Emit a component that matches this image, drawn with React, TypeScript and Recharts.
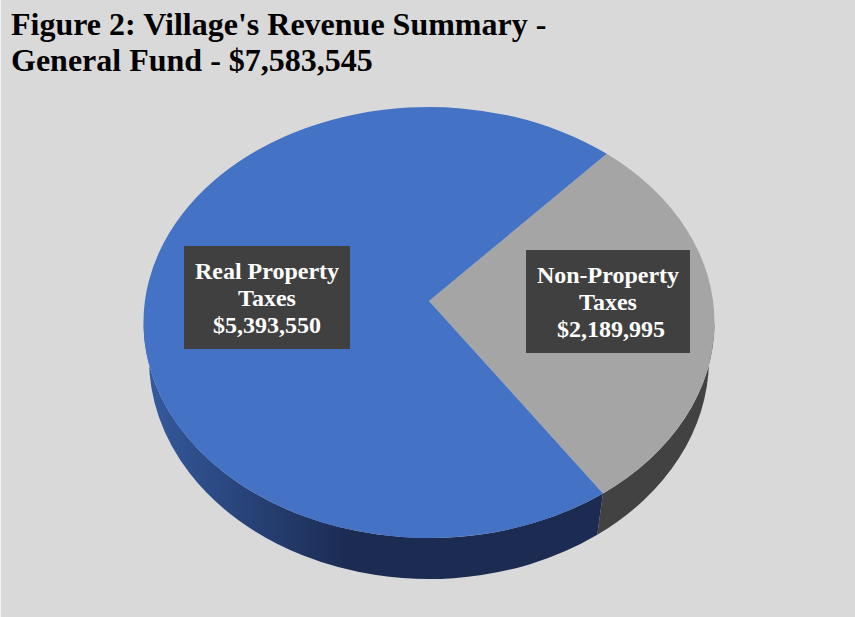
import { PieChart, Pie } from "recharts";

const categories = ["Non-Property Taxes", "Real Property Taxes"];
const amounts = [2189995, 5393550];
const titleLines = ["Figure 2: Village's Revenue Summary -", "General Fund - $7,583,545"];

const faceColors = ["#a5a5a5", "#4472c4"];
const wallColors = ["#424242", "url(#blueWall)"];

// label boxes, relative to the page
const labelBoxes = [
  { x: 526, y: 250, width: 164, height: 103, lines: ["Non-Property", "Taxes"], valuePrefix: "\u00a0" },
  { x: 184, y: 246, width: 166, height: 103, lines: ["Real Property", "Taxes"], valuePrefix: "" },
];

const chartData = categories.map((name, i) => ({ name, value: amounts[i] }));

const CX = 429;
const CY = 322.5;
const RX = 285.5;
const RY = 215.5;
const APEX_LIFT = 21.5;
// the lower rim is a little narrower because of the perspective
const BOTTOM_RX = 280;
const BOTTOM_RY = 220;
const BOTTOM_CY = 359;
const BOTTOM_SKEW = 0.6;

const rad = (a: number) => (a * Math.PI) / 180;

function PerspectiveSlice(props: any) {
  const { cx, cy, outerRadius, startAngle, endAngle, index } = props;
  const ry = (outerRadius * RY) / RX;
  const top = (a: number) => `${cx + outerRadius * Math.cos(rad(a))} ${cy - ry * Math.sin(rad(a))}`;
  const bottom = (a: number) =>
    `${cx + BOTTOM_RX * Math.cos(rad(a - BOTTOM_SKEW))} ${BOTTOM_CY - BOTTOM_RY * Math.sin(rad(a - BOTTOM_SKEW))}`;

  const large = Math.abs(startAngle - endAngle) > 180 ? 1 : 0;
  const face = `M ${cx} ${cy - APEX_LIFT} L ${top(startAngle)} A ${outerRadius} ${ry} 0 ${large} 1 ${top(endAngle)} Z`;

  const wallStart = Math.min(startAngle, 0);
  const wallEnd = Math.max(endAngle, -180);
  const wall =
    `M ${top(wallStart)} A ${outerRadius} ${ry} 0 0 1 ${top(wallEnd)} ` +
    `L ${bottom(wallEnd)} A ${BOTTOM_RX} ${BOTTOM_RY} 0 0 0 ${bottom(wallStart)} Z`;

  return (
    <g>
      <path d={wall} fill={wallColors[index]} />
      <path d={face} fill={faceColors[index]} />
    </g>
  );
}

function BoxLabel(props: any) {
  const box = labelBoxes[props.index];
  const textX = box.x + box.width / 2;
  const lines = [...box.lines, `${box.valuePrefix}$${amounts[props.index].toLocaleString("en-US")}`];
  return (
    <g>
      <rect x={box.x} y={box.y} width={box.width} height={box.height} fill="#404040" />
      {lines.map((line, i) => (
        <text
          key={line}
          x={textX}
          y={box.y + 33 + i * 27}
          textAnchor="middle"
          fill="#ffffff"
          fontFamily="'Liberation Serif', serif"
          fontWeight="bold"
          fontSize={24}
          style={{ whiteSpace: "pre" }}
        >
          {line}
        </text>
      ))}
    </g>
  );
}

export default function App() {
  return (
    <div style={{ position: "fixed", left: 0, top: 0, width: 855, height: 617, background: "#d9d9d9", overflow: "hidden" }}>
      <div style={{ position: "absolute", left: 0, top: 0, width: 1, height: 617, background: "#f5f5f5" }} />
      <div
        style={{
          position: "absolute",
          left: 11,
          top: 6,
          fontFamily: "'Liberation Serif', serif",
          fontWeight: "bold",
          fontSize: 32,
          lineHeight: "36px",
          color: "#000",
          whiteSpace: "nowrap",
        }}
      >
        {titleLines.map((line) => (
          <div key={line}>{line}</div>
        ))}
      </div>
      <PieChart width={855} height={617} margin={{ top: 0, right: 0, bottom: 0, left: 0 }} style={{ position: "absolute", left: 0, top: 0 }}>
        <defs>
          <linearGradient id="blueWall" gradientUnits="userSpaceOnUse" x1={150} y1={0} x2={350} y2={0}>
            <stop offset="0%" stopColor="#34599c" />
            <stop offset="100%" stopColor="#1b2b52" />
          </linearGradient>
        </defs>
        <Pie
          data={chartData}
          dataKey="value"
          nameKey="name"
          cx={CX}
          cy={CY}
          innerRadius={0}
          outerRadius={RX}
          startAngle={51.5}
          endAngle={-308.5}
          stroke="none"
          shape={PerspectiveSlice}
          label={BoxLabel}
          labelLine={false}
          isAnimationActive={false}
        />
      </PieChart>
    </div>
  );
}
